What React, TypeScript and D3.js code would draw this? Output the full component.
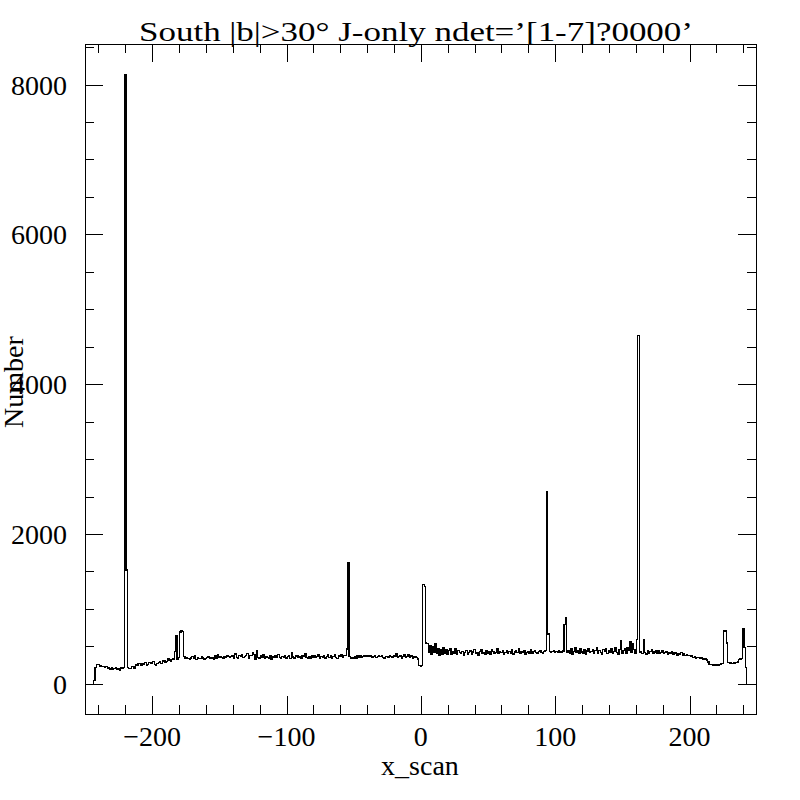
import React, { useRef, useEffect } from 'react';
import * as d3 from 'd3';

// histogram of x_scan, 1-unit bins, first bin centred on -243
const binStart = -243;
const counts: number[] = [
  45, 215, 262, 258, 238, 240, 225, 232, 214, 228, // -243
  205, 212, 198, 220, 190, 205, 215, 196, 208, 182, // -233
  210, 205, 212, 8135, 1520, 218, 200, 205, 232, 228, // -223
  205, 262, 240, 265, 270, 242, 275, 258, 280, 250, // -213
  262, 285, 268, 278, 295, 262, 250, 272, 280, 300, // -203
  268, 305, 312, 290, 300, 330, 318, 305, 322, 330, // -193
  430, 640, 330, 350, 690, 707, 700, 360, 345, 350, // -183
  340, 330, 345, 362, 340, 370, 325, 352, 340, 338, // -173
  360, 345, 330, 332, 350, 365, 340, 355, 345, 330, // -163
  370, 340, 392, 348, 360, 355, 340, 362, 355, 372, // -153
  360, 350, 365, 378, 342, 398, 352, 345, 380, 360, // -143
  395, 350, 368, 372, 402, 345, 380, 372, 410, 395, // -133
  320, 445, 350, 338, 372, 355, 390, 340, 365, 352, // -123
  345, 378, 330, 362, 350, 372, 348, 392, 355, 340, // -113
  368, 350, 375, 345, 360, 372, 338, 410, 358, 345, // -103
  370, 382, 350, 365, 340, 375, 360, 398, 352, 345, // -93
  362, 340, 380, 355, 372, 348, 365, 390, 338, 360, // -83
  352, 375, 345, 368, 392, 350, 372, 340, 365, 385, // -73
  355, 340, 378, 362, 395, 350, 372, 372, 465, 1612, // -63
  360, 340, 352, 345, 365, 338, 370, 355, 372, 348, // -53
  360, 378, 365, 382, 370, 362, 375, 358, 368, 372, // -43
  355, 365, 380, 362, 372, 350, 345, 368, 360, 352, // -33
  375, 362, 348, 370, 365, 398, 352, 360, 372, 345, // -23
  368, 385, 350, 362, 392, 355, 370, 345, 362, 358, // -13
  348, 330, 240, 238, 242, 1322, 1300, 545, 540, 420, // -3
  512, 395, 498, 420, 530, 405, 470, 385, 450, 398, // 7
  480, 410, 455, 392, 440, 468, 388, 432, 410, 470, // 17
  395, 445, 418, 402, 430, 385, 420, 445, 398, 415, // 27
  438, 392, 425, 460, 400, 418, 380, 435, 452, 405, // 37
  420, 398, 442, 410, 425, 388, 450, 430, 405, 418, // 47
  465, 400, 428, 415, 440, 392, 420, 448, 405, 432, // 57
  410, 455, 398, 425, 440, 415, 468, 402, 430, 420, // 67
  445, 398, 418, 435, 410, 452, 400, 428, 442, 415, // 77
  405, 430, 448, 420, 410, 432, 440, 2562, 665, 430, // 87
  412, 428, 445, 418, 432, 420, 440, 425, 415, 438, // 97
  790, 878, 420, 445, 410, 468, 398, 430, 478, 415, // 107
  440, 400, 465, 425, 410, 452, 395, 438, 470, 412, // 117
  430, 458, 405, 440, 480, 410, 448, 420, 395, 462, // 127
  430, 475, 400, 442, 418, 465, 405, 435, 480, 420, // 137
  398, 455, 575, 410, 440, 470, 405, 480, 445, 560, // 147
  420, 540, 455, 400, 588, 4655, 414, 430, 400, 590, // 157
  420, 398, 445, 410, 432, 455, 400, 425, 438, 410, // 167
  442, 405, 420, 438, 400, 415, 430, 392, 418, 405, // 177
  425, 398, 410, 420, 385, 405, 395, 412, 380, 398, // 187
  375, 390, 378, 382, 360, 372, 355, 362, 340, 350, // 197
  352, 335, 345, 330, 322, 330, 318, 290, 262, 255, // 207
  258, 248, 255, 240, 262, 250, 258, 265, 270, 705, // 217
  708, 545, 285, 278, 282, 275, 280, 278, 285, 290, // 227
  320, 330, 340, 734, 485, 212, // 237
];

const xTicks = [-200, -100, 0, 100, 200];
const yTicks = [0, 2000, 4000, 6000, 8000];
const titleText = 'South |b|>30° J-only ndet=’[1-7]?0000’';
const xLabel = 'x_scan';
const yLabel = 'Number';

const App: React.FC = () => {
  const svgRef = useRef<SVGSVGElement | null>(null);

  useEffect(() => {
    const svg = d3.select(svgRef.current);
    const font = '"Liberation Serif", "DejaVu Serif", serif';

    const left = 85, right = 756, top = 44, bottom = 714;

    const x = d3.scaleLinear().domain([-250, 249.5]).range([left, right]);
    const y = d3.scaleLinear().domain([-404, 8542]).range([bottom, top]);

    // frame
    svg.append('rect')
      .attr('x', left + 0.5)
      .attr('y', top + 0.5)
      .attr('width', right - left)
      .attr('height', bottom - top)
      .attr('fill', 'none')
      .attr('stroke', '#000')
      .attr('stroke-width', 1.2)
      .attr('shape-rendering', 'crispEdges');

    const ticks = svg.append('g')
      .attr('stroke', '#000')
      .attr('stroke-width', 1.2)
      .attr('shape-rendering', 'crispEdges');

    const xMinor = d3.range(-240, 241, 20);
    xMinor.forEach(v => {
      const len = v % 100 === 0 ? 18 : 9;
      const px = Math.round(x(v)) + 0.5;
      ticks.append('line').attr('x1', px).attr('x2', px).attr('y1', bottom).attr('y2', bottom - len);
      ticks.append('line').attr('x1', px).attr('x2', px).attr('y1', top).attr('y2', top + len);
    });

    const yMinor = d3.range(0, 8501, 500);
    yMinor.forEach(v => {
      const len = v % 2000 === 0 ? 18 : 9;
      const py = Math.round(y(v)) + 0.5;
      ticks.append('line').attr('x1', left).attr('x2', left + len).attr('y1', py).attr('y2', py);
      ticks.append('line').attr('x1', right).attr('x2', right - len).attr('y1', py).attr('y2', py);
    });

    // histogram as a step line
    const pts: [number, number][] = [[binStart - 0.5, 0]];
    counts.forEach((c, i) => pts.push([binStart - 0.5 + i, c]));
    const lastEdge = binStart - 0.5 + counts.length;
    pts.push([lastEdge, counts[counts.length - 1]]);
    pts.push([lastEdge, 0]);

    const line = d3.line<[number, number]>()
      .x(d => x(d[0]))
      .y(d => y(d[1]))
      .curve(d3.curveStepAfter);

    svg.append('path')
      .datum(pts)
      .attr('d', line)
      .attr('fill', 'none')
      .attr('stroke', '#000')
      .attr('stroke-width', 1.2)
      .attr('shape-rendering', 'crispEdges');

    // tick labels
    svg.append('g')
      .selectAll('text')
      .data(xTicks)
      .enter()
      .append('text')
      .attr('x', d => x(d))
      .attr('y', 746)
      .attr('text-anchor', 'middle')
      .style('font-family', font)
      .style('font-size', '28px')
      .text(d => d < 0 ? '\u2212' + Math.abs(d) : String(d));

    svg.append('g')
      .selectAll('text')
      .data(yTicks)
      .enter()
      .append('text')
      .attr('x', 67)
      .attr('y', d => y(d) + 10)
      .attr('text-anchor', 'end')
      .style('font-family', font)
      .style('font-size', '28px')
      .text(d => String(d));

    svg.append('text')
      .attr('x', 416)
      .attr('y', 41)
      .attr('text-anchor', 'middle')
      .attr('textLength', 554)
      .attr('lengthAdjust', 'spacingAndGlyphs')
      .style('font-family', font)
      .style('font-size', '28px')
      .text(titleText);

    svg.append('text')
      .attr('x', 420)
      .attr('y', 775)
      .attr('text-anchor', 'middle')
      .style('font-family', font)
      .style('font-size', '28px')
      .text(xLabel);

    svg.append('text')
      .attr('transform', 'translate(23,382) rotate(-90)')
      .attr('text-anchor', 'middle')
      .style('font-family', font)
      .style('font-size', '28px')
      .text(yLabel);

    return () => {
      svg.selectAll('*').remove();
    };
  }, []);

  return (
    <svg
      ref={svgRef}
      width={800}
      height={800}
      style={{ position: 'absolute', left: 0, top: 0, background: '#fff' }}
    />
  );
};

export default App;
